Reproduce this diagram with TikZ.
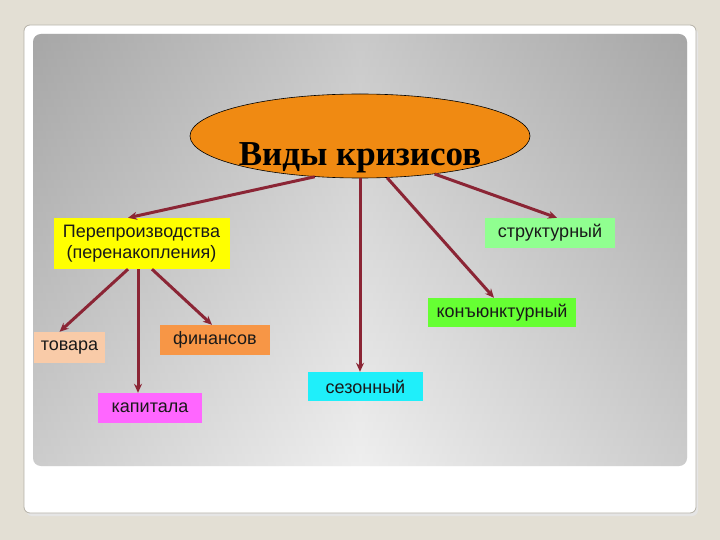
\documentclass[tikz,border=0pt]{standalone}
\usepackage{fontspec}
\setmainfont{Liberation Sans}
\newfontfamily\titlefont{Liberation Serif}
\usetikzlibrary{arrows.meta,shapes.geometric,calc}
\definecolor{bgc}{HTML}{E3DFD4}
\definecolor{cardedge}{HTML}{B5B1A7}
\definecolor{arrowc}{HTML}{8B2535}
\definecolor{ellc}{HTML}{F08A12}
\definecolor{cyel}{HTML}{FFFF00}
\definecolor{clgreen}{HTML}{90FF90}
\definecolor{cgreen}{HTML}{66FF33}
\definecolor{ccyan}{HTML}{1FEFFA}
\definecolor{cpeach}{HTML}{F9CBA8}
\definecolor{corange}{HTML}{F79646}
\definecolor{cmag}{HTML}{FF66FF}
\begin{document}
\begin{tikzpicture}[x=1pt,y=-1pt,
  box/.style={rectangle, inner sep=0pt, font=\fontsize{18}{21}\selectfont, text=black!90},
  conn/.style={draw=arrowc, line width=3pt, -{Stealth[length=9pt,width=8pt]}}]
\useasboundingbox (0,0) rectangle (720,540);
\fill[bgc] (0,0) rectangle (720,540);
% card
\fill[black!10,rounded corners=6pt] (26,28) rectangle (698,516);
\draw[cardedge, fill=white, rounded corners=6pt, line width=0.8pt] (24,25) rectangle (696,513);
% panel
\shade[rounded corners=8pt, top color=black!30, bottom color=black!9] (33,34) rectangle (687,466);
\shade[rounded corners=8pt, left color=black!45, right color=black!45, middle color=white, opacity=0.3] (33,34) rectangle (687,466);
% ellipse
\node[ellipse, draw=black, line width=0.6pt, fill=ellc, minimum width=340pt, minimum height=84pt, inner sep=0pt] (title) at (360,136) {};
\node[anchor=base, text=black, font=\titlefont\bfseries\fontsize{35}{40}\selectfont] (ttext) at (360,166) {Виды кризисов};
% boxes
\node[box, fill=cyel, minimum width=176pt, minimum height=51pt, align=center] (pp) at (141.5,243.5) {Перепроизводства\\(перенакопления)};
\node[box, fill=clgreen, minimum width=130pt, minimum height=30pt] (str) at (550,233) {структурный};
\node[box, fill=cgreen, minimum width=148pt, minimum height=29pt] (konj) at (502,312.5) {конъюнктурный};
\node[box, fill=ccyan, minimum width=115pt, minimum height=29pt] (sez) at (365.5,386.5) {сезонный};
\node[box, fill=cpeach, minimum width=71pt, minimum height=31pt] (tov) at (69.5,347.5) {товара};
\node[box, fill=corange, minimum width=110pt, minimum height=30pt] (fin) at (215,340) {финансов};
\node[box, fill=cmag, minimum width=104pt, minimum height=30pt] (kap) at (150,408) {капитала};
% connectors
\draw[conn] (title.222) -- ([xshift=-13.5pt]pp.north);
\draw[conn] (title.south) -- (title.south |- sez.north);
\draw[conn] (title.303) -- ([xshift=-8pt]konj.north);
\draw[conn] (title.333) -- ([xshift=7pt]str.north);
\draw[conn] ([xshift=-13.5pt]pp.south) -- ([xshift=-10pt]tov.north);
\draw[conn] ([xshift=-3.5pt]pp.south) -- ([xshift=-3.5pt]pp.south |- kap.north);
\draw[conn] ([xshift=10.5pt]pp.south) -- ([xshift=-3pt]fin.north);
\end{tikzpicture}
\end{document}
